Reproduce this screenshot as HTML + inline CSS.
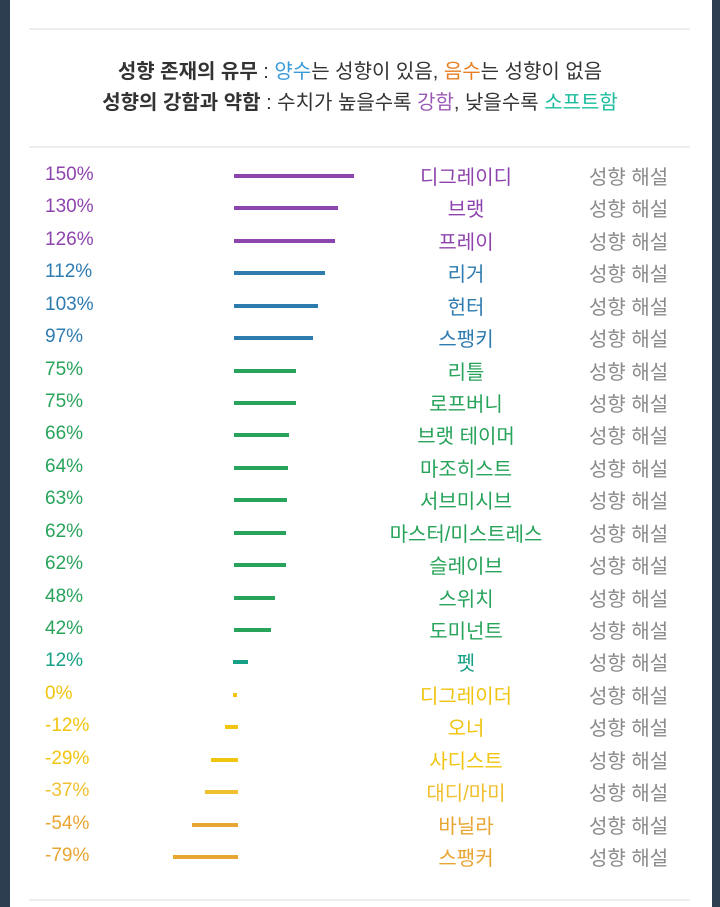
<!DOCTYPE html>
<html><head><meta charset="utf-8"><style>
html,body{margin:0;padding:0}
body{width:720px;height:907px;background:#2c3e50;position:relative;overflow:hidden;font-family:"Liberation Sans","Noto Sans CJK KR",sans-serif}
.card{position:absolute;left:10px;top:0;width:702px;height:907px;background:#fff}
.hr{position:absolute;left:29px;width:661px;height:2px;background:#eeeeee}
.h{position:absolute;left:0;width:720px;text-align:center;font-size:20px;line-height:24px;color:#333;white-space:nowrap}
.h b{font-weight:bold}
.p{position:absolute;left:45px;font-size:19px;line-height:22px}
.n{position:absolute;left:346px;width:240px;text-align:center;font-size:20px;line-height:24px}
.s{position:absolute;left:589px;font-size:20px;line-height:24px;color:#8a8a8a}
.bar{position:absolute;height:4px}
</style></head><body>
<div class="card"></div>
<div class="hr" style="top:28px"></div>
<div class="hr" style="top:146px"></div>
<div class="hr" style="top:899px"></div>
<div class="h" style="top:60px"><b>성향 존재의 유무</b> : <span style="color:#3a9ad9">양수</span>는 성향이 있음, <span style="color:#e67e22">음수</span>는 성향이 없음</div>
<div class="h" style="top:91px"><b>성향의 강함과 약함</b> : 수치가 높을수록 <span style="color:#9b59b6">강함</span>, 낮을수록 <span style="color:#1abc9c">소프트함</span></div>
<div id="rows"></div>
<script>
var d=[["150%","디그레이디","#8e44ad",234,120],["130%","브랫","#8e44ad",234,104],["126%","프레이","#8e44ad",234,101],["112%","리거","#2e7bb0",234,91],["103%","헌터","#2e7bb0",234,84],["97%","스팽키","#2e7bb0",234,79],["75%","리틀","#27a35a",234,62],["75%","로프버니","#27a35a",234,62],["66%","브랫 테이머","#27a35a",234,55],["64%","마조히스트","#27a35a",234,54],["63%","서브미시브","#27a35a",234,53],["62%","마스터/미스트레스","#27a35a",234,52],["62%","슬레이브","#27a35a",234,52],["48%","스위치","#27a35a",234,41],["42%","도미넌트","#27a35a",234,37],["12%","펫","#16a085",233,15],["0%","디그레이더","#f1c40f",233,4],["-12%","오너","#f1c40f",225,13],["-29%","사디스트","#f1c40f",211,27],["-37%","대디/마미","#f0c030",205,33],["-54%","바닐라","#e8a531",192,46],["-79%","스팽커","#e8a531",173,65]];
var h="";
d.forEach(function(r,i){var c=175+32.43*i;var col=r[2];
h+='<div class="p" style="top:'+(c-11)+'px;color:'+col+'">'+r[0]+'</div>';
h+='<div class="bar" style="top:'+(c-1)+'px;left:'+r[3]+'px;width:'+r[4]+'px;background:'+col+'"></div>';
h+='<div class="n" style="top:'+(c-9)+'px;color:'+col+'">'+r[1]+'</div>';
h+='<div class="s" style="top:'+(c-9)+'px">성향 해설</div>';});
document.getElementById("rows").innerHTML=h;
</script>
</body></html>
